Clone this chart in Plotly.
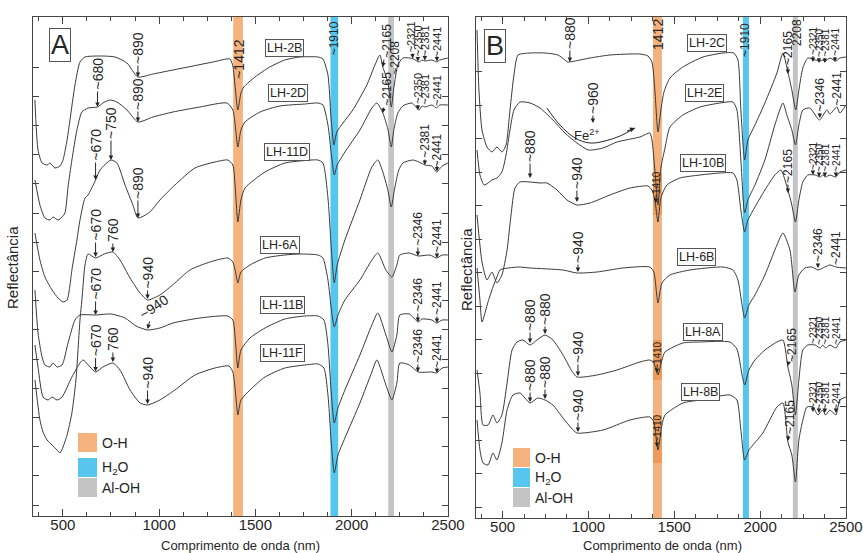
import plotly.graph_objects as go

# ---------------- Panel A spectra (wavelength nm, stacked relative reflectance) ----------------
A_2B_wl = [355,371,392,418,433,459,485,501,522,537,563,589,615,693,771,833,890,968,1072,1176,1280,1368,1383,1394,1409,1425,1440,1498,1575,1653,1731,1825,1851,1877,1892,1908,1923,1955,2006,2079,2121,2147,2162,2188,2206,2219,2240,2266,2302,2321,2350,2365,2381,2417,2441,2458,2500]
A_2B_r = [83.2,73.2,70.6,70.2,70.6,69.6,70.0,71.2,75.2,79.2,86.2,90.8,91.8,92.0,91.8,90.6,87.8,88.4,89.2,90.0,90.8,91.4,90.0,86.2,81.2,84.6,85.8,87.8,89.8,91.2,91.8,91.8,91.4,88.2,80.2,74.2,76.8,78.6,81.2,86.2,90.2,92.2,89.8,86.8,81.8,85.6,90.2,91.6,91.6,91.4,90.8,91.2,91.0,91.2,90.8,91.2,91.6]

A_2D_wl = [355,381,407,433,449,475,496,511,527,547,573,599,631,680,708,745,781,833,890,968,1072,1212,1352,1383,1398,1409,1425,1446,1524,1627,1757,1825,1851,1877,1895,1910,1925,1965,2043,2105,2131,2162,2188,2206,2219,2240,2266,2313,2350,2365,2381,2417,2441,2458,2500]
A_2D_r = [67.2,62.2,59.6,59.2,59.8,59.2,59.8,60.6,65.8,71.2,77.2,80.8,81.6,81.8,82.6,83.2,82.8,81.2,78.8,79.8,80.8,81.8,82.6,81.2,77.2,73.8,77.2,78.8,80.8,82.0,82.4,82.6,82.2,78.2,72.2,68.2,70.2,72.8,77.2,81.6,82.6,80.6,77.4,73.8,77.2,80.6,82.0,82.6,81.2,82.0,81.8,82.2,81.6,82.2,82.2]

A_11D_wl = [355,381,407,444,475,501,522,537,547,573,589,615,631,670,693,750,781,823,864,890,952,1004,1082,1186,1290,1357,1383,1398,1409,1425,1446,1550,1653,1731,1825,1851,1877,1895,1910,1925,1965,2043,2105,2136,2162,2188,2206,2222,2245,2266,2318,2350,2381,2417,2441,2470,2500]
A_11D_r = [56.6,51.2,47.8,45.2,43.6,42.8,43.2,46.2,49.2,55.2,59.2,63.6,64.2,67.2,69.2,71.2,70.6,66.2,62.2,59.6,60.8,63.2,66.2,69.6,70.8,71.2,70.2,64.2,58.8,63.2,65.6,68.8,70.6,71.0,71.2,70.6,63.6,53.2,46.6,50.2,55.2,63.2,69.8,71.2,68.8,65.2,61.8,65.2,69.2,70.6,71.2,70.8,70.2,70.0,68.8,70.0,70.6]

A_6A_wl = [355,381,397,418,444,470,485,501,522,547,568,589,599,615,631,670,715,760,797,849,901,940,1004,1082,1160,1264,1357,1383,1398,1409,1425,1472,1550,1653,1731,1825,1851,1877,1895,1910,1929,1965,2043,2105,2136,2178,2209,2235,2250,2300,2346,2406,2441,2470,2500]
A_6A_r = [27.2,19.2,16.8,15.2,14.2,13.2,12.6,13.8,16.2,20.6,27.2,39.2,43.2,50.2,52.4,51.6,52.4,52.8,51.2,47.6,44.6,43.2,44.2,46.6,49.2,50.8,51.6,50.8,48.6,46.6,48.8,50.2,51.6,52.2,52.4,52.2,51.6,47.2,41.2,37.8,40.2,43.2,47.2,51.2,52.6,49.2,47.8,50.2,52.2,52.6,52.0,52.2,51.6,52.2,52.2]

A_11B_wl = [355,371,392,407,433,449,470,496,527,563,589,670,750,823,880,940,1004,1072,1212,1357,1383,1398,1409,1425,1472,1550,1653,1757,1825,1856,1877,1895,1910,1929,1965,2043,2105,2136,2178,2209,2235,2250,2300,2346,2365,2417,2441,2470,2500]
A_11B_r = [45.2,36.6,31.8,30.2,29.8,30.6,29.8,30.2,34.6,39.2,40.2,40.2,40.4,39.6,38.0,37.2,37.6,38.6,39.6,40.0,39.2,34.2,29.6,33.2,35.6,37.6,39.4,40.0,40.0,39.2,34.2,24.2,18.6,21.6,25.2,32.2,38.2,40.6,36.2,32.8,36.2,40.2,40.4,38.8,39.4,39.2,38.6,39.2,39.2]

A_11F_wl = [355,371,397,423,444,470,496,547,589,605,670,708,760,797,849,901,940,1004,1082,1186,1290,1363,1383,1398,1409,1425,1472,1550,1653,1757,1825,1856,1877,1895,1910,1929,1965,2043,2105,2131,2178,2209,2235,2250,2300,2346,2417,2441,2470,2500]
A_11F_r = [34.2,29.8,23.8,23.2,23.8,23.2,23.8,27.8,30.6,31.2,28.8,29.8,30.6,29.2,25.2,22.6,22.2,23.2,25.2,28.2,29.6,30.0,28.8,24.2,20.2,23.2,25.2,27.8,29.6,30.2,30.4,29.6,24.2,14.2,8.6,12.2,15.6,22.6,28.8,31.2,26.2,23.2,26.6,30.6,30.2,28.8,28.8,28.6,29.6,29.8]

# ---------------- Panel B spectra ----------------
B_2C_wl = [351,362,380,409,438,467,496,520,543,566,590,660,747,823,863,880,951,1009,1125,1300,1347,1370,1387,1405,1422,1440,1475,1550,1667,1784,1847,1871,1888,1910,1929,1970,2028,2098,2133,2162,2185,2208,2226,2249,2278,2321,2350,2365,2381,2407,2441,2465,2500]
B_2C_r = [97.6,85.6,77.6,74.2,73.2,74.2,73.2,74.6,81.6,88.6,92.6,93.0,93.0,92.6,91.6,91.2,91.6,92.0,92.6,92.8,92.4,91.2,85.6,77.2,81.6,85.2,88.0,90.2,92.2,93.0,93.0,91.6,81.6,71.6,75.6,78.6,83.0,89.0,93.0,89.2,85.6,81.6,85.6,90.0,92.0,91.6,91.4,91.6,91.4,92.0,91.4,92.0,92.2]

B_2E_wl = [351,368,392,415,438,467,496,520,543,566,601,660,718,793,863,933,1000,1085,1166,1300,1358,1370,1387,1405,1422,1446,1475,1550,1650,1766,1842,1865,1888,1910,1929,1970,2028,2086,2133,2156,2185,2206,2226,2249,2290,2346,2389,2407,2447,2465,2500]
B_2E_r = [73.6,68.6,66.6,67.0,67.6,68.0,69.2,72.6,77.6,81.6,83.2,83.0,82.0,79.6,77.0,75.0,73.6,74.0,75.2,76.2,77.0,75.6,69.6,62.6,70.0,74.0,78.2,80.6,82.2,83.0,83.2,81.6,71.6,61.0,63.6,66.6,71.6,78.6,83.0,80.6,77.6,74.6,78.6,81.6,82.0,79.6,81.6,80.8,82.2,81.0,82.6]

B_10B_wl = [351,380,409,438,467,496,526,549,572,601,660,718,758,817,875,933,1009,1125,1242,1347,1370,1387,1405,1422,1457,1533,1650,1766,1842,1865,1888,1910,1929,1970,2028,2086,2121,2162,2185,2206,2226,2249,2278,2321,2350,2365,2381,2407,2441,2465,2500]
B_10B_r = [60.6,51.2,47.6,49.2,47.0,48.6,53.6,60.6,66.0,67.2,67.2,67.0,67.0,65.6,63.6,62.6,63.0,64.6,66.0,66.4,65.6,63.6,59.2,64.0,66.6,68.0,68.6,69.0,69.0,67.6,61.6,57.2,59.6,62.2,65.6,68.6,69.6,65.6,62.6,59.2,63.6,67.2,68.6,68.6,68.2,68.6,68.2,68.6,68.2,69.2,69.6]

B_6B_wl = [351,368,380,415,444,467,485,590,660,852,933,1050,1201,1358,1381,1405,1428,1475,1591,1784,1842,1871,1895,1910,1935,1970,2028,2098,2133,2174,2203,2226,2261,2302,2337,2377,2407,2442,2500]
B_6B_r = [50.0,43.6,39.2,43.2,46.2,48.2,49.6,50.2,50.0,49.6,49.0,49.2,50.0,50.2,49.2,43.0,47.0,48.6,49.6,50.2,49.6,47.6,42.6,40.0,42.6,44.6,48.6,54.6,57.0,53.6,45.2,48.6,50.0,50.2,49.6,50.2,50.6,50.2,50.0]

B_8A_wl = [351,368,386,415,444,467,496,526,555,584,619,660,700,747,793,852,900,933,1050,1166,1300,1358,1381,1405,1428,1446,1550,1650,1824,1865,1895,1910,1935,1970,2028,2098,2133,2162,2185,2206,2226,2249,2278,2321,2350,2365,2381,2407,2441,2465,2500]
B_8A_r = [29.6,25.0,18.6,18.6,20.6,19.0,20.6,27.0,33.6,35.2,35.6,34.6,35.6,36.6,35.6,32.6,29.6,28.2,28.6,29.6,31.2,31.6,31.0,28.6,31.6,33.2,35.0,35.2,35.2,33.8,28.6,26.6,29.6,31.6,33.6,35.2,35.6,30.2,26.6,20.6,27.6,33.6,34.6,34.6,34.0,34.6,34.0,34.6,34.0,35.2,35.6]

B_8B_wl = [351,368,386,415,444,467,496,526,560,601,660,705,747,793,852,900,933,1085,1242,1358,1381,1405,1428,1446,1550,1650,1824,1865,1888,1910,1935,2016,2098,2133,2162,2185,2206,2226,2249,2273,2308,2337,2365,2381,2407,2441,2465,2500]
B_8B_r = [19.6,13.6,11.0,10.6,13.0,11.6,15.0,21.6,24.6,25.0,23.0,24.0,23.6,22.6,20.0,18.0,17.0,17.6,19.6,20.2,19.2,13.6,18.6,20.6,23.0,23.6,24.6,23.6,17.6,11.6,13.6,17.0,22.2,23.0,15.2,12.6,7.2,15.6,19.6,22.2,22.2,20.6,21.6,20.6,21.6,20.6,23.6,24.2]

# Sample names and where their labels sit (wavelength, reflectance)
A_names = ["LH-2B", "LH-2D", "LH-11D", "LH-6A", "LH-11B", "LH-11F"]
A_name_wl = [1653, 1669, 1664, 1627, 1643, 1643]
A_name_r = [93.6, 84.6, 72.8, 54.2, 42.2, 32.6]
B_names = ["LH-2C", "LH-2E", "LH-10B", "LH-6B", "LH-8A", "LH-8B"]
B_name_wl = [1690, 1679, 1667, 1632, 1667, 1655]
B_name_r = [95.0, 85.0, 71.0, 52.2, 37.2, 25.2]

# Absorption bands (nm)
A_bands = {"O-H": (1385, 1435), "H2O": (1890, 1930), "Al-OH": (2190, 2220)}
B_bands = {"O-H": (1376, 1428), "H2O": (1900, 1935), "Al-OH": (2191, 2220)}

# Feature labels: text, wavelength of arrow tip, reflectance of arrow tip
A_feat_text = ["~890","~680","~890","~670","~750","~890","~670","760","~940","~670","~940","~670","760","~940",
               "~2165","~2165","~2321","~2350","~2381","~2441","~2350","~2381","~2441","~2381","~2441",
               "~2346","~2441","~2346","~2441","~2346","~2441"]
A_feat_wl = [890,680,890,670,750,890,670,760,940,670,940,670,760,940,
             2162,2162,2318,2344,2380,2443,2344,2380,2443,2380,2443,2344,2443,2344,2443,2344,2443]
A_feat_r = [87.8,81.8,78.8,67.2,71.2,59.6,51.8,52.8,43.4,40.2,37.4,28.9,30.8,22.4,
            89.8,80.6,91.5,90.9,91.1,90.9,81.2,81.8,81.6,70.2,68.9,52.0,51.6,38.8,38.6,28.8,28.6]
# style per label: (ax px, ay px, font size, angle)
A_feat_style = [(0,-29,14,-90),(0,-33,14,-90),(0,-28,14,-90),(0,-35,14,-90),(0,-37,14,-90),(0,-35,14,-90),
                (0,-32,14,-90),(0,-22,14,-90),(0,-26,14,-90),(0,-31,14,-90),(6,-22,14,-35),(0,-31,14,-90),
                (0,-23,14,-90),(0,-31,14,-90),
                (4,-26,12,-90),(4,-24,12,-90),(-2,-22,11,-90),(0,-21,11,-90),(0,-20,11,-90),(0,-20,11,-90),
                (0,-22,11,-90),(0,-18,11,-90),(0,-18,11,-90),(0,-24,12,-90),(0,-21,12,-90),
                (0,-27,12,-90),(0,-22,12,-90),(0,-27,12,-90),(0,-25,12,-90),(0,-26,12,-90),(0,-22,12,-90)]
A_plain_text = ["~1412", "~1910", "~2208"]
A_plain_wl = [1414, 1910, 2224]
A_plain_r = [91.4, 95.6, 91.6]
A_plain_size = [14, 12, 12]

B_feat_text = ["~880","~2165","~2321","~2350","~2381","~2441",
               "~960","~2346","~2441",
               "~880","~940","~1410","~2165","~2321","~2350","~2381","~2441",
               "~940","~2346","~2441",
               "~880","~880","~940","~1410","~2165","~2321","~2350","~2381","~2441",
               "~880","~880","~940","~1410","~2165","~2321","~2350","~2381","~2441"]
B_feat_wl = [892,2162,2308,2343,2377,2436,
             1026,2348,2447,
             660,933,1393,2162,2308,2343,2377,2442,
             939,2337,2442,
             660,747,939,1399,2162,2308,2343,2377,2442,
             660,747,939,1399,2162,2308,2343,2377,2442]
B_feat_r = [91.2,88.8,91.2,91.0,91.0,91.2,
            79.0,80.0,82.2,
            68.0,63.2,63.0,65.0,68.6,68.2,68.2,68.2,
            49.2,50.0,50.2,
            35.0,36.8,28.4,29.0,30.4,34.4,34.2,34.2,34.2,
            23.2,23.8,17.2,14.2,15.4,21.2,21.0,21.0,21.0]
B_feat_style = [(0,-29,14,-90),(0,-26,12,-90),(0,-22,10,-90),(0,-21,10,-90),(0,-21,10,-90),(0,-21,10,-90),
                (0,-25,14,-90),(0,-23,12,-90),(0,-18,12,-90),
                (0,-32,14,-90),(0,-29,14,-90),(0,-18,10,-90),(0,-27,12,-90),(0,-20,10,-90),(0,-20,10,-90),(0,-20,10,-90),(0,-20,10,-90),
                (0,-25,14,-90),(0,-23,12,-90),(0,-19,12,-90),
                (0,-28,14,-90),(0,-25,14,-90),(0,-29,14,-90),(0,-18,10,-90),(4,-21,12,-90),(0,-17,10,-90),(0,-17,10,-90),(0,-17,10,-90),(0,-17,10,-90),
                (0,-27,14,-90),(0,-27,14,-90),(0,-27,14,-90),(0,-19,10,-90),(2,-24,12,-90),(0,-18,10,-90),(0,-18,10,-90),(0,-18,10,-90),(0,-18,10,-90)]
B_plain_text = ["1412", "~1910", "2208"]
B_plain_wl = [1405, 1912, 2215]
B_plain_r = [96.8, 95.6, 97.2]
B_plain_size = [14, 12, 12]

# Fe2+ curved arrow path (panel B)
Fe_wl = [758, 834, 922, 1009, 1096, 1184, 1271]
Fe_r = [82.0, 78.6, 76.0, 75.0, 75.4, 76.4, 78.0]

# Darker highlights inside the B O-H band around the ~1410 labels (reflectance ranges)
B_hl = [(60.6, 69.0), (27.6, 35.6), (11.0, 20.6)]

# ---------------- Figure ----------------
W, H = 863, 553
FONT = "Liberation Sans, Arial, sans-serif"
INK = "#262626"
LINE = "#3a3a3a"
AX = "#444444"
COL = {"O-H": "#F6B27C", "H2O": "#56C6EF", "Al-OH": "#C4C4C4"}

def px(p):
    return p / W

def py(p):
    return 1 - p / H

fig = go.Figure()

A_curves = [(A_2B_wl, A_2B_r), (A_2D_wl, A_2D_r), (A_11D_wl, A_11D_r),
            (A_6A_wl, A_6A_r), (A_11B_wl, A_11B_r), (A_11F_wl, A_11F_r)]
B_curves = [(B_2C_wl, B_2C_r), (B_2E_wl, B_2E_r), (B_10B_wl, B_10B_r),
            (B_6B_wl, B_6B_r), (B_8A_wl, B_8A_r), (B_8B_wl, B_8B_r)]

for (wl, r) in A_curves:
    fig.add_trace(go.Scatter(x=wl, y=r, xaxis="x", yaxis="y", mode="lines",
                             line=dict(color=LINE, width=1, shape="spline", smoothing=0.6),
                             hoverinfo="skip", showlegend=False))
for (wl, r) in B_curves:
    fig.add_trace(go.Scatter(x=wl, y=r, xaxis="x2", yaxis="y2", mode="lines",
                             line=dict(color=LINE, width=1, shape="spline", smoothing=0.6),
                             hoverinfo="skip", showlegend=False))
fig.add_trace(go.Scatter(x=Fe_wl, y=Fe_r, xaxis="x2", yaxis="y2", mode="lines",
                         line=dict(color=INK, width=1, shape="spline", smoothing=1),
                         hoverinfo="skip", showlegend=False))

def xcfg(domain, anchor):
    return dict(domain=domain, anchor=anchor, range=[345, 2500.5], showgrid=False, zeroline=False,
                automargin=False,
                showline=True, linecolor=AX, linewidth=1, mirror="ticks",
                ticks="inside", ticklen=7, tickwidth=1, tickcolor=AX,
                tickmode="linear", tick0=500, dtick=500, ticklabelstandoff=-5,
                minor=dict(ticks="inside", ticklen=4, tickwidth=1, tickcolor=AX,
                           tick0=375, dtick=125, showgrid=False),
                tickfont=dict(family=FONT, size=15, color=INK))

def ycfg(domain, anchor, rng, first, step, n):
    return dict(domain=domain, anchor=anchor, range=rng, showgrid=False, zeroline=False,
                automargin=False,
                showline=True, linecolor=AX, linewidth=1, mirror="ticks",
                ticks="inside", ticklen=6, tickwidth=1, tickcolor=AX,
                tickmode="array", tickvals=[first + step * k for k in range(n)],
                showticklabels=False)

fig.update_layout(
    width=W, height=H, autosize=False,
    margin=dict(l=0, r=0, t=0, b=0, pad=0, autoexpand=False),
    paper_bgcolor="white", plot_bgcolor="white", showlegend=False,
    xaxis=xcfg([px(33), px(448)], "y"),
    yaxis=ycfg([py(516), py(17)], "x", [0, 99.8], 2.2, 5.84, 16),
    xaxis2=xcfg([px(476), px(846)], "y2"),
    yaxis2=ycfg([py(518), py(17)], "x2", [0, 100.2], 2.2, 6.7, 14),
)

shapes = []
for bands, xr, yr in [(A_bands, "x", "y domain"), (B_bands, "x2", "y2 domain")]:
    for k, (a, b) in bands.items():
        shapes.append(dict(type="rect", xref=xr, yref=yr, x0=a, x1=b, y0=0, y1=1,
                           fillcolor=COL[k], line=dict(width=0), layer="below"))
for (lo, hi) in B_hl:
    shapes.append(dict(type="rect", xref="x2", yref="y2", x0=B_bands["O-H"][0], x1=B_bands["O-H"][1],
                       y0=lo, y1=hi, fillcolor="#EE9A5A", line=dict(width=0), layer="below"))

# legend swatches
leg_keys = ["O-H", "H2O", "Al-OH"]
leg_txt = ["O-H", "H<sub>2</sub>O", "Al-OH"]
A_sw = [(433, 452), (458, 477), (478, 497)]
B_sw = [(448, 467), (468, 487), (488, 507)]
for (x0, x1, sw, tx) in [(78, 97, A_sw, 100), (513, 530, B_sw, 533)]:
    for k, (t, b), lab in zip(leg_keys, sw, leg_txt):
        shapes.append(dict(type="rect", xref="paper", yref="paper", x0=px(x0), x1=px(x1),
                           y0=py(b), y1=py(t), fillcolor=COL[k], line=dict(width=0)))
        fig.add_annotation(x=px(tx), y=py((t + b) / 2), xref="paper", yref="paper", text=lab,
                           showarrow=False, xanchor="left", yanchor="middle",
                           font=dict(family=FONT, size=14, color=INK))
fig.update_layout(shapes=shapes)

# feature labels with arrows
for texts, wls, rs, styles, xr, yr in [(A_feat_text, A_feat_wl, A_feat_r, A_feat_style, "x", "y"),
                                       (B_feat_text, B_feat_wl, B_feat_r, B_feat_style, "x2", "y2")]:
    for t, w, r, (ax, ay, sz, ang) in zip(texts, wls, rs, styles):
        fig.add_annotation(x=w, y=r, xref=xr, yref=yr, text=t, showarrow=True,
                           ax=ax, ay=ay, arrowhead=2, arrowsize=0.9, arrowwidth=1,
                           arrowcolor=INK, standoff=0, textangle=ang,
                           font=dict(family=FONT, size=sz, color=INK))

for texts, wls, rs, sizes, xr, yr in [(A_plain_text, A_plain_wl, A_plain_r, A_plain_size, "x", "y"),
                                      (B_plain_text, B_plain_wl, B_plain_r, B_plain_size, "x2", "y2")]:
    for t, w, r, sz in zip(texts, wls, rs, sizes):
        fig.add_annotation(x=w, y=r, xref=xr, yref=yr, text=t, showarrow=False, textangle=-90,
                           xanchor="center", yanchor="middle",
                           font=dict(family=FONT, size=sz, color=INK))

# Fe2+ label and arrow head
fig.add_annotation(x=992, y=76.6, xref="x2", yref="y2", text="Fe<sup>2+</sup>", showarrow=False,
                   xanchor="center", yanchor="middle", font=dict(family=FONT, size=13, color=INK))
fig.add_annotation(x=Fe_wl[-1], y=Fe_r[-1], xref="x2", yref="y2", text=" ", showarrow=True,
                   ax=-10, ay=4, arrowhead=2, arrowsize=1, arrowwidth=1, arrowcolor=INK, standoff=0,
                   font=dict(size=2))

# sample name boxes
for names, wls, rs, xr, yr in [(A_names, A_name_wl, A_name_r, "x", "y"),
                               (B_names, B_name_wl, B_name_r, "x2", "y2")]:
    for n, w, r in zip(names, wls, rs):
        fig.add_annotation(x=w, y=r, xref=xr, yref=yr, text=n, showarrow=False,
                           xanchor="center", yanchor="middle",
                           bordercolor="#555555", borderwidth=1, borderpad=1, bgcolor="white",
                           font=dict(family=FONT, size=12.5, color=INK))

# panel letters
for letter, cx, cy in [("A", 59.5, 45), ("B", 495, 46)]:
    fig.add_annotation(x=px(cx), y=py(cy), xref="paper", yref="paper", text=letter, showarrow=False,
                       xanchor="center", yanchor="middle",
                       bordercolor="#555555", borderwidth=1, borderpad=1, bgcolor="white",
                       font=dict(family=FONT, size=27, color=INK))

# axis titles
for cx, cy in [(240, 545), (662, 545)]:
    fig.add_annotation(x=px(cx), y=py(cy), xref="paper", yref="paper", text="Comprimento de onda (nm)",
                       showarrow=False, xanchor="center", yanchor="middle",
                       font=dict(family=FONT, size=13, color=INK))
for cx, cy in [(12, 268), (466, 270)]:
    fig.add_annotation(x=px(cx), y=py(cy), xref="paper", yref="paper", text="Reflectância",
                       showarrow=False, textangle=-90, xanchor="center", yanchor="middle",
                       font=dict(family=FONT, size=15, color=INK))

fig.write_html("out.html",
               config={"displayModeBar": False, "staticPlot": True},
               post_script="document.body.style.margin='0px';document.body.style.padding='0px';"
                           "document.documentElement.style.overflow='hidden';")
